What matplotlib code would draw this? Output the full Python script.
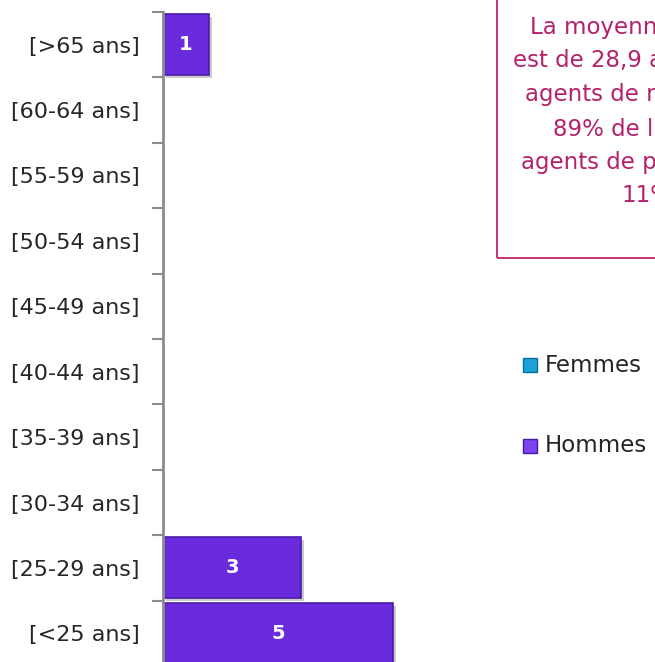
import matplotlib
matplotlib.use("Agg")
import matplotlib.pyplot as plt
from matplotlib.patches import Rectangle
import matplotlib.patheffects as pe

categories = ["[<25 ans]", "[25-29 ans]", "[30-34 ans]", "[35-39 ans]", "[40-44 ans]",
              "[45-49 ans]", "[50-54 ans]", "[55-59 ans]", "[60-64 ans]", "[>65 ans]"]
femmes = [0, 0, 0, 0, 0, 0, 0, 0, 0, 0]
hommes = [5, 3, 0, 0, 0, 0, 0, 0, 0, 1]
note_lines = ["La moyenne d'âge des agents",
              "est de 28,9 ans. Les",
              "agents de moins de 30 ans",
              "89% de l'effectif. Les",
              "agents de plus de 65 ans",
              "11%."]

FONT = ["DejaVu Sans"]
W, H = 655, 662
fig = plt.figure(figsize=(W / 100, H / 100), dpi=100)
fig.patch.set_facecolor("white")

n = len(categories)
cat_px = 65.4
top_px = 12
bottom_px = top_px + n * cat_px
left_px = 163
unit_px = 46
right_px = W
ax = fig.add_axes([left_px / W, 1 - bottom_px / H, (right_px - left_px) / W, n * cat_px / H])
ax.set_xlim(0, (right_px - left_px) / unit_px)
ax.set_ylim(-0.5, n - 0.5)
ax.patch.set_alpha(0)

y = list(range(n))
bh = 0.93
ax.barh(y, femmes, height=bh, color="#1BA1D8", edgecolor="#0E6E9A", linewidth=1, label="Femmes")
ax.barh(y, hommes, left=femmes, height=bh, color="#6A2BDC", edgecolor="#4A1BA8",
        linewidth=1.2, label="Hommes",
        path_effects=[pe.SimplePatchShadow(offset=(2, -2), shadow_rgbFace="#999999", alpha=0.5), pe.Normal()])
for yi, f, v in zip(y, femmes, hommes):
    if v > 0:
        ax.text(f + v / 2, yi, str(v), ha="center", va="center", color="white",
                fontsize=14, fontweight="bold", family=FONT)

for s in ["top", "right", "bottom"]:
    ax.spines[s].set_visible(False)
ax.spines["left"].set_color("#8C8C8C")
ax.spines["left"].set_linewidth(2)
ax.set_xticks([])
ax.set_yticks(y)
ax.set_yticklabels(categories, fontsize=16, color="#262626", family=FONT)
ax.tick_params(axis="y", which="major", length=0, pad=17)
ax.set_yticks([i - 0.5 for i in range(n + 1)], minor=True)
ax.tick_params(axis="y", which="minor", length=8, width=1.5, color="#8C8C8C")

# note box (clipped by the figure edges, as in the reference)
box_left, box_bottom = 497, 258
fig.patches.append(Rectangle((box_left / W, 1 - box_bottom / H), 0.5, 0.5,
                             transform=fig.transFigure, fill=False, edgecolor="#C0246E",
                             linewidth=1.3))
line_x = [530, 513, 525, 553, 521, 621]
line_y = [27, 60, 95, 130, 163, 196]
for t, lx, ly in zip(note_lines, line_x, line_y):
    fig.text(lx / W, 1 - ly / H, t, ha="left", va="center", fontsize=16.5,
             color="#B5216B", family=FONT)

# legend
labels = ["Femmes", "Hommes"]
leg_y = [365, 446]
leg_cols = [("#1BA1D8", "#0E6E9A"), ("#7A45F0", "#4A1BA8")]
for (fc, ec), lab, ly in zip(leg_cols, labels, leg_y):
    fig.patches.append(Rectangle((523 / W, 1 - (ly + 7) / H), 14 / W, 14 / H,
                                 transform=fig.transFigure, facecolor=fc, edgecolor=ec,
                                 linewidth=1))
    fig.text(545 / W, 1 - ly / H, lab, ha="left", va="center", fontsize=16.5,
             color="#262626", family=FONT)

fig.savefig("out.png", dpi=100)
